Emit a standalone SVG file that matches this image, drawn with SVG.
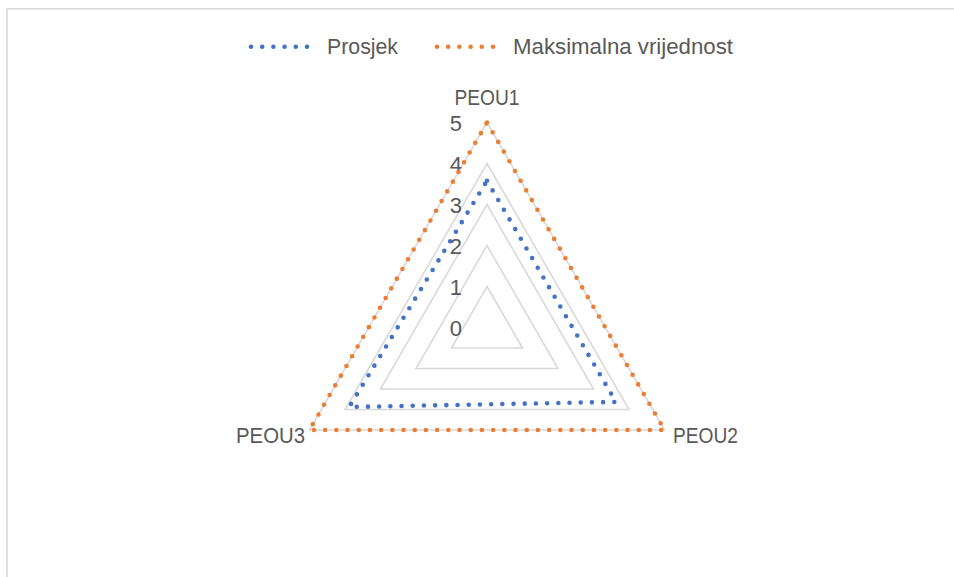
<svg xmlns="http://www.w3.org/2000/svg" width="954" height="577" viewBox="0 0 954 577">
<style>
.t{font-family:"Liberation Sans",Arial,sans-serif;font-size:22px;fill:#595959}
.grid{fill:none;stroke:#d9d9d9;stroke-width:1.6}
.s{fill:none;stroke-width:4.6;stroke-linecap:round;stroke-linejoin:round;stroke-dasharray:0 11.2}
.blue{stroke:#4472c4}
.orange{stroke:#ed7d31}
</style>
<rect x="0" y="0" width="954" height="577" fill="#ffffff"/>
<path d="M7,580 V8.8 H960" fill="none" stroke="#d9d9d9" stroke-width="1.6"/>
<g id="legend">
<line class="s blue" x1="251" y1="46.7" x2="318" y2="46.7"/>
<text class="t" x="327" y="54" textLength="71" lengthAdjust="spacingAndGlyphs">Prosjek</text>
<line class="s orange" x1="437" y1="46.7" x2="504" y2="46.7"/>
<text class="t" x="513" y="54" textLength="220" lengthAdjust="spacingAndGlyphs">Maksimalna vrijednost</text>
</g>
<g id="grid">
<polygon class="grid" points="487,286.5 522.5,348 451.5,348"/>
<polygon class="grid" points="487,245.5 558,368.5 416,368.5"/>
<polygon class="grid" points="487,204.5 593.5,389 380.5,389"/>
<polygon class="grid" points="487,163.5 629,409.5 345,409.5"/>
<polygon class="grid" points="487,122.5 664.5,430 309.5,430"/>
</g>
<g id="value-labels">
<text class="t" x="462" y="336" text-anchor="end">0</text>
<text class="t" x="462" y="295" text-anchor="end">1</text>
<text class="t" x="462" y="254" text-anchor="end">2</text>
<text class="t" x="462" y="213" text-anchor="end">3</text>
<text class="t" x="462" y="172" text-anchor="end">4</text>
<text class="t" x="462" y="131" text-anchor="end">5</text>
</g>
<g id="axis-labels">
<text id="PEOU1" class="t" x="487" y="105" text-anchor="middle" textLength="65" lengthAdjust="spacingAndGlyphs">PEOU1</text>
<text id="PEOU2" class="t" x="673" y="443" textLength="65" lengthAdjust="spacingAndGlyphs">PEOU2</text>
<text id="PEOU3" class="t" x="236" y="443" textLength="69" lengthAdjust="spacingAndGlyphs">PEOU3</text>
</g>
<g id="series">
<path id="maksimalna" class="s orange" d="M487,122.5 L664.5,430 L309.5,430 Z"/>
<path id="prosjek" class="s blue" d="M487,180.7 L615.9,401.9 L349.2,407 Z"/>
</g>
</svg>
